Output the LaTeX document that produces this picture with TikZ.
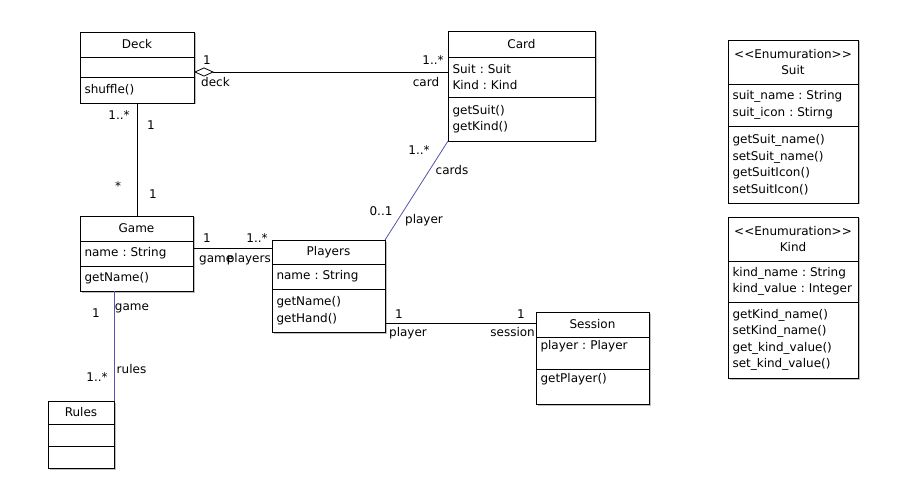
\documentclass[tikz,border=0pt]{standalone}
\usepackage{fontspec}
\setmainfont{DejaVu Sans}
\usetikzlibrary{shadows,arrows.meta,calc}
\definecolor{assocblue}{RGB}{85,85,175}
\frenchspacing
\hyphenpenalty=10000\relax
\exhyphenpenalty=10000\relax
\begin{document}
\begin{tikzpicture}[x=1pt,y=-1pt,
  every node/.style={font=\fontsize{12}{16.5}\selectfont},
  cls/.style={draw, line width=0.8pt, fill=white, anchor=north west, inner sep=0pt, outer sep=0pt,
    drop shadow={shadow xshift=1.5pt, shadow yshift=-1.5pt, fill=black, opacity=0.25}},
  comp/.style={draw, line width=0.8pt, anchor=north west, inner xsep=4.5pt, inner ysep=0pt, outer sep=0pt, align=left},
  ttl/.style={comp, align=center},
  wdeck/.style={minimum width=114pt, text width=105pt},
  wcard/.style={minimum width=147pt, text width=138pt},
  wenum/.style={minimum width=130pt, text width=121pt},
  wstd/.style={minimum width=113pt, text width=104pt},
  wrules/.style={minimum width=66pt, text width=57pt},
  lbl/.style={inner sep=0pt, anchor=base},
  conn/.style={line width=0.8pt, draw=black},
  blueconn/.style={line width=0.8pt, draw=assocblue}
]
\path[use as bounding box, fill=white] (0,0) rectangle (903,500);

% Deck
\node[cls, minimum width=114pt, minimum height=71pt] (deck) at (80,32) {};
\node[ttl, wdeck, minimum height=25pt] (deckT) at (deck.north west) {Deck};
\node[comp, wdeck, minimum height=20pt] (deckA) at (deckT.south west) {};
\node[comp, wdeck, minimum height=26pt] (deckM) at (deckA.south west) {shuffle()};

% Card
\node[cls, minimum width=147pt, minimum height=110pt] (card) at (448,31) {};
\node[ttl, wcard, minimum height=26pt] (cardT) at (card.north west) {Card};
\node[comp, wcard, minimum height=40pt] (cardA) at (cardT.south west) {Suit : Suit\\Kind : Kind};
\node[comp, wcard, minimum height=44pt] (cardM) at (cardA.south west) {getSuit()\\getKind()};

% Suit
\node[cls, minimum width=130pt, minimum height=163pt] (suit) at (728,40) {};
\node[ttl, wenum, minimum height=44pt] (suitT) at (suit.north west) {<{}<Enumuration>{}>\\Suit};
\node[comp, wenum, minimum height=42pt] (suitA) at (suitT.south west) {suit\_name : String\\suit\_icon : Stirng};
\node[comp, wenum, minimum height=77pt] (suitM) at (suitA.south west) {getSuit\_name()\\setSuit\_name()\\getSuitIcon()\\setSuitIcon()};

% Kind
\node[cls, minimum width=130pt, minimum height=161pt] (kind) at (728,217) {};
\node[ttl, wenum, minimum height=44pt] (kindT) at (kind.north west) {<{}<Enumuration>{}>\\Kind};
\node[comp, wenum, minimum height=41pt] (kindA) at (kindT.south west) {kind\_name : String\\kind\_value : Integer};
\node[comp, wenum, minimum height=76pt] (kindM) at (kindA.south west) {getKind\_name()\\setKind\_name()\\get\_kind\_value()\\set\_kind\_value()};

% Game
\node[cls, minimum width=113pt, minimum height=75pt] (game) at (80,216) {};
\node[ttl, wstd, minimum height=25pt] (gameT) at (game.north west) {Game};
\node[comp, wstd, minimum height=25pt] (gameA) at (gameT.south west) {name : String};
\node[comp, wstd, minimum height=25pt] (gameM) at (gameA.south west) {getName()};

% Players
\node[cls, minimum width=113pt, minimum height=92pt] (players) at (272,240) {};
\node[ttl, wstd, minimum height=24pt] (playersT) at (players.north west) {Players};
\node[comp, wstd, minimum height=25pt] (playersA) at (playersT.south west) {name : String};
\node[comp, wstd, minimum height=43pt] (playersM) at (playersA.south west) {getName()\\getHand()};

% Session
\node[cls, minimum width=113pt, minimum height=92pt] (session) at (536,312) {};
\node[ttl, wstd, minimum height=25pt] (sessionT) at (session.north west) {Session};
\node[comp, wstd, minimum height=32pt] (sessionA) at (sessionT.south west) {player : Player\\\mbox{}};
\node[comp, wstd, minimum height=35pt] (sessionM) at (sessionA.south west) {getPlayer()\\\mbox{}};

% Rules
\node[cls, minimum width=66pt, minimum height=67pt] (rules) at (48,401) {};
\node[ttl, wrules, minimum height=23pt] (rulesT) at (rules.north west) {Rules};
\node[comp, wrules, minimum height=22pt] (rulesA) at (rulesT.south west) {};
\node[comp, wrules, minimum height=22pt] (rulesM) at (rulesA.south west) {};

% Connectors
\coordinate (dcY) at ($(deck.north east)+(0,40)$);
\draw[conn, {Diamond[open,fill=white,length=20pt,width=9pt]}-] (dcY) -- (dcY -| card.west);
\draw[conn] (deck.south) -- (deck.south |- game.north);
\coordinate (gpY) at ($(game.north east)+(0,32)$);
\draw[conn] (gpY) -- (gpY -| players.west);
\draw[blueconn] (players.north east) -- (card.south west);
\draw[blueconn] (rules.north east) -- (rules.north east |- game.south);
\coordinate (psY) at ($(players.north east)+(0,83)$);
\draw[conn] (psY) -- (psY -| session.west);

% Labels
\node[lbl] (l1) at (207,65) {1};
\node[lbl] (l2) at (215.5,87) {deck};
\node[lbl] (l3) at (433,65) {1..*};
\node[lbl] (l4) at (426,87) {card};
\node[lbl] (l5) at (119,120) {1..*};
\node[lbl] (l6) at (151,130) {1};
\node[lbl] (l7) at (118,190) {*};
\node[lbl] (l8) at (153,199) {1};
\node[lbl] (l9) at (207,242) {1};
\node[lbl] (l10) at (257,242) {1..*};
\node[lbl, anchor=base west] (l11) at (199,262) {game};
\node[lbl, anchor=base east] (l12) at (271,262) {players};
\node[lbl] (l13) at (419,155) {1..*};
\node[lbl] (l14) at (452,175) {cards};
\node[lbl] (l15) at (381,215) {0..1};
\node[lbl] (l16) at (424,224) {player};
\node[lbl] (l17) at (399,318) {1};
\node[lbl] (l18) at (408,336) {player};
\node[lbl] (l19) at (521,318) {1};
\node[lbl, anchor=base east] (l20) at (535,336) {session};
\node[lbl] (l21) at (96,317) {1};
\node[lbl] (l22) at (132,310) {game};
\node[lbl] (l23) at (131.5,373) {rules};
\node[lbl] (l24) at (97,381) {1..*};
\end{tikzpicture}
\end{document}
